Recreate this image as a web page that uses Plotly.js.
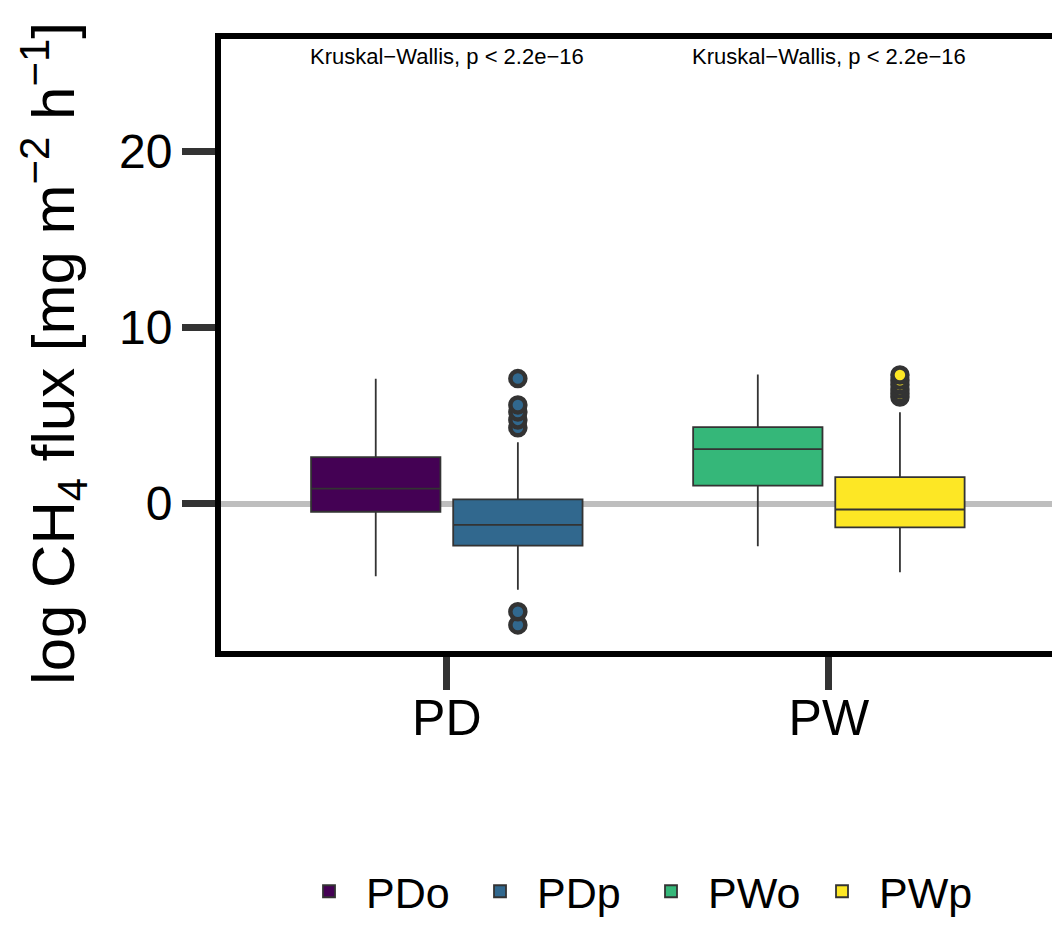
<!DOCTYPE html>
<html>
<head>
<meta charset="utf-8">
<script src="https://cdn.plot.ly/plotly-3.0.1.min.js"></script>
<style>html,body{margin:0;padding:0;background:#fff;}#chart{width:1052px;height:926px;}</style>
</head>
<body>
<div id="chart"></div>
<script>
const categories = ['PD', 'PW'];
const seriesNames = ['PDo', 'PDp', 'PWo', 'PWp'];
const seriesCategory = ['PD', 'PD', 'PW', 'PW'];
const seriesGroup = ['o', 'p', 'o', 'p'];
const lowerWhisker = [-4.13, -4.9, -2.43, -3.9];
const q1 = [-0.47, -2.39, 1.02, -1.36];
const median = [0.85, -1.21, 3.09, -0.34];
const q3 = [2.63, 0.23, 4.34, 1.5];
const upperWhisker = [7.09, 3.48, 7.33, 5.19];
const outliers = [[], [7.1, 5.6, 5.2, 4.75, 4.3, -6.15, -6.9], [], [7.3, 7.0, 6.75, 6.5, 6.25, 6.05]];
const colors = ['#440154', '#31688E', '#35B779', '#FDE725'];
const testLabels = ['Kruskal\u2212Wallis, p < 2.2e\u221216', 'Kruskal\u2212Wallis, p < 2.2e\u221216'];
const yTicks = [0, 10, 20];

const FONT = 'Liberation Sans, Arial, Helvetica, sans-serif';

const traces = seriesNames.map((name, i) => {
  const t = {
    type: 'box',
    name: name,
    x: [seriesCategory[i]],
    q1: [q1[i]],
    median: [median[i]],
    q3: [q3[i]],
    lowerfence: [lowerWhisker[i]],
    upperfence: [upperWhisker[i]],
    offsetgroup: seriesGroup[i],
    fillcolor: colors[i],
    line: {color: '#333333', width: 1.8},
    whiskerwidth: 0,
    boxpoints: 'outliers',
    jitter: 0,
    pointpos: 0,
    marker: {color: colors[i], size: 15, line: {color: '#333333', width: 4.5}, outliercolor: colors[i]},
    hoverinfo: 'skip'
  };
  if (outliers[i].length) t.y = [outliers[i]];
  return t;
});

const annotations = categories.map((c, i) => ({
  x: c, y: 25.4, xref: 'x', yref: 'y', text: testLabels[i], showarrow: false,
  font: {family: FONT, size: 22, color: '#000'}, xanchor: 'center', yanchor: 'middle'
}));

const layout = {
  width: 1052, height: 926,
  margin: {l: 221, r: 0, t: 39, b: 275, autoexpand: false},
  paper_bgcolor: '#fff', plot_bgcolor: '#fff',
  showlegend: true,
  boxmode: 'group', boxgap: 0.256, boxgroupgap: 0.09,
  font: {family: FONT, color: '#000'},
  xaxis: {
    type: 'category', categoryorder: 'array', categoryarray: categories,
    range: [-0.591, 1.584],
    showline: true, linecolor: '#000', linewidth: 6, mirror: true,
    ticks: 'outside', ticklen: 33, tickwidth: 7, tickcolor: '#333333',
    ticklabelstandoff: -15,
    tickfont: {family: FONT, size: 50, color: '#000'},
    showgrid: false, zeroline: false, fixedrange: true
  },
  yaxis: {
    range: [-8.38, 26.39],
    tickvals: yTicks, ticktext: yTicks.map(String),
    showline: true, linecolor: '#000', linewidth: 6, mirror: false,
    ticks: 'outside', ticklen: 33, tickwidth: 7, tickcolor: '#333333',
    tickfont: {family: FONT, size: 48, color: '#000'},
    showgrid: false,
    zeroline: true, zerolinecolor: '#BEBEBE', zerolinewidth: 6,
    title: {text: 'log CH<sub>4</sub> flux [mg m<sup>\u22122</sup> h<sup>\u22121</sup>]&nbsp;', font: {family: FONT, size: 60, color: '#000'}, standoff: 27},
    fixedrange: true
  },
  legend: {
    orientation: 'h', x: 0.497, xanchor: 'center', y: -0.449, yanchor: 'bottom',
    font: {family: FONT, size: 43, color: '#000'},
    entrywidth: 92, entrywidthmode: 'pixels', itemwidth: 64,
    bgcolor: 'rgba(0,0,0,0)'
  },
  annotations: annotations
};

Plotly.newPlot('chart', traces, layout, {staticPlot: true, displayModeBar: false});
</script>
</body>
</html>
